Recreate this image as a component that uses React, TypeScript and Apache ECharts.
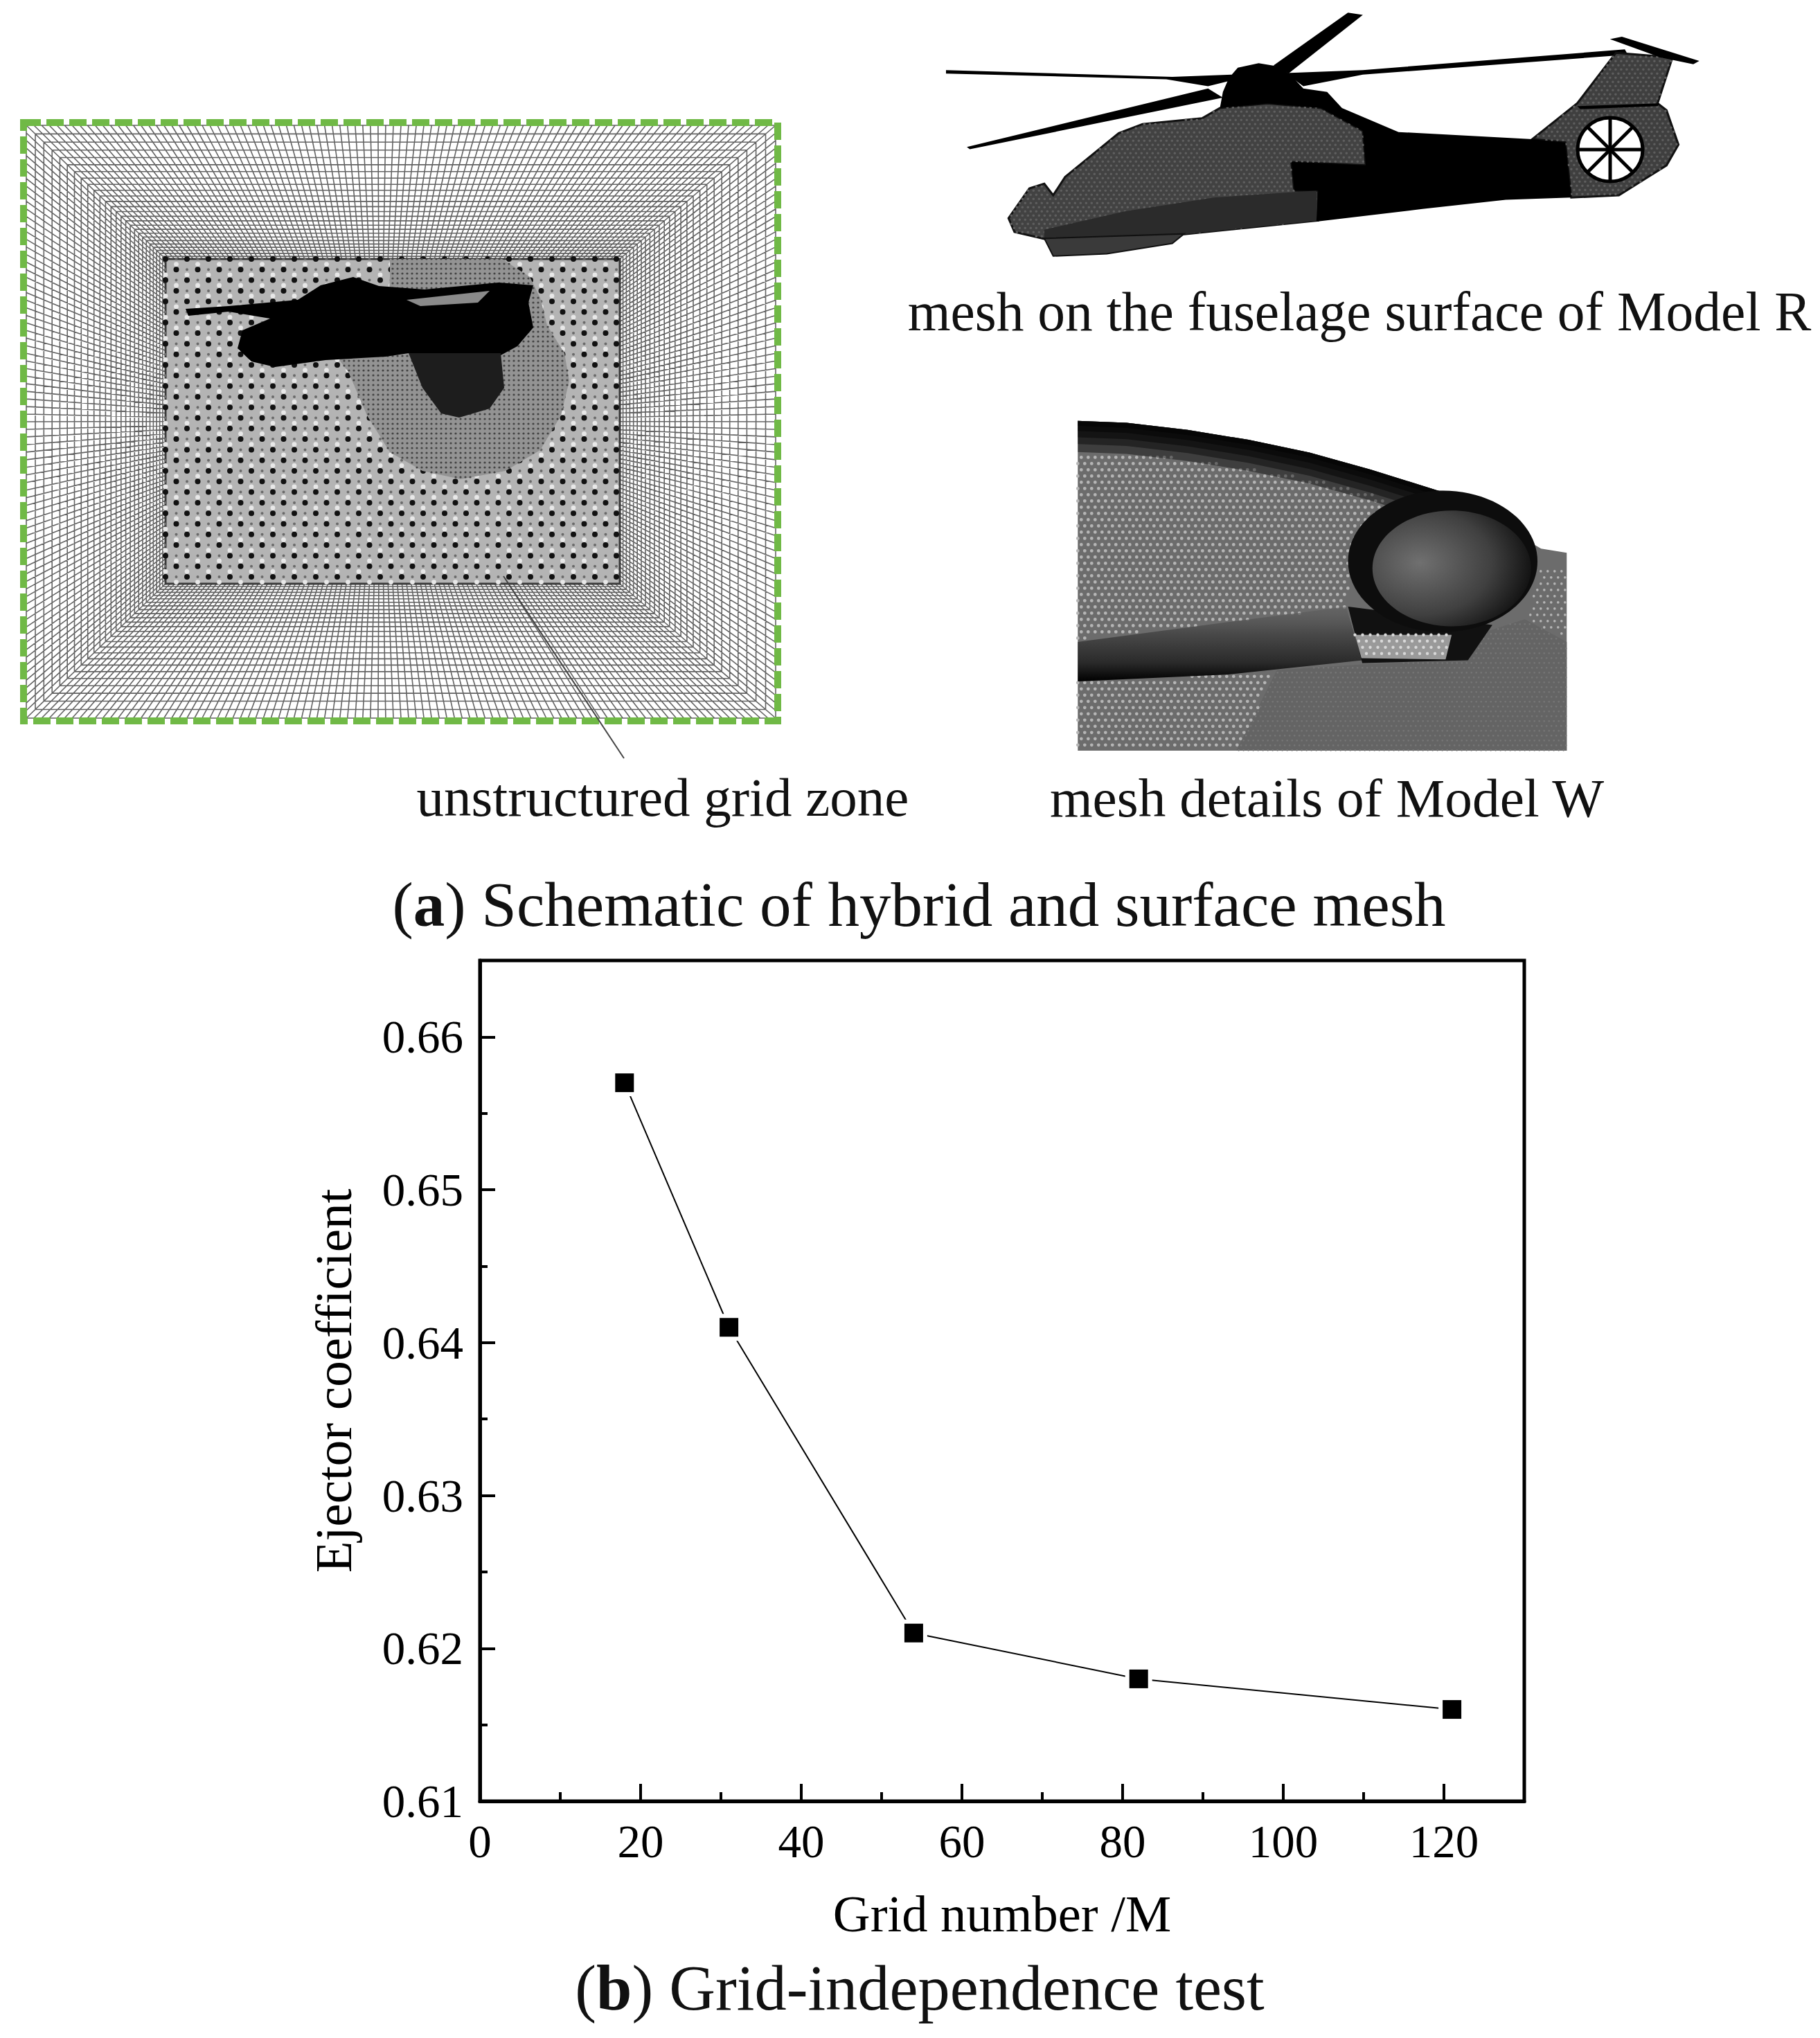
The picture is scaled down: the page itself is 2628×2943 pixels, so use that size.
import React, { useEffect, useRef } from "react";
import * as echarts from "echarts";

// ---------- chart data ----------
const gridNumber = [18, 31, 54, 82, 121];
const ejectorCoefficient = [0.657, 0.641, 0.621, 0.618, 0.616];
const xMajorTicks = [0, 20, 40, 60, 80, 100, 120];
const xMinorTicks = [10, 30, 50, 70, 90, 110];
const yMajorTicks = [0.61, 0.62, 0.63, 0.64, 0.65, 0.66];
const yMinorTicks = [0.615, 0.625, 0.635, 0.645, 0.655];
const points = gridNumber.map((x, i) => [x, ejectorCoefficient[i]]);

const SERIF = '"Liberation Serif", serif';

// ---------- illustration helpers (panel a) ----------
type P = number[];
const circleD = (x: number, y: number, r: number) =>
  `M${x - r} ${y}a${r} ${r} 0 1 0 ${2 * r} 0a${r} ${r} 0 1 0 ${-2 * r} 0z`;
const inPoly = (pt: P, poly: P[]) => {
  let c = false;
  for (let i = 0, j = poly.length - 1; i < poly.length; j = i++) {
    const a = poly[i], b = poly[j];
    if (a[1] > pt[1] !== b[1] > pt[1] && pt[0] < ((b[0] - a[0]) * (pt[1] - a[1])) / (b[1] - a[1]) + a[0]) c = !c;
  }
  return c;
};
const latticeDots = (poly: P[], dx: number, dy: number, r: number, stagger = true) => {
  const xs = poly.map((p) => p[0]), ys = poly.map((p) => p[1]);
  const x0 = Math.min(...xs), x1 = Math.max(...xs), y0 = Math.min(...ys), y1 = Math.max(...ys);
  let d = "";
  let row = 0;
  for (let y = y0; y < y1; y += dy, row++) {
    for (let x = x0 + (stagger && row % 2 ? dx / 2 : 0); x < x1; x += dx) {
      if (inPoly([x, y], poly)) d += circleD(+x.toFixed(1), +y.toFixed(1), r);
    }
  }
  return d;
};

// mesh frame
const OUT = { l: 38, r: 1120, t: 181, b: 1037 };
const INN = { l: 239, r: 895, t: 374, b: 843 };
const NX = 98, NY = 78, RINGS = 26;

const meshD = (() => {
  const steps: number[] = [0];
  for (let k = 0; k < RINGS; k++) steps.push(steps[k] + 12 * Math.pow(0.955, k));
  const tt = steps.map((s) => s / steps[RINGS]);
  let d = "";
  const mix = (a: number, b: number, t: number) => +(a + (b - a) * t).toFixed(1);
  for (const t of tt) {
    const l = mix(OUT.l, INN.l, t), r = mix(OUT.r, INN.r, t), a = mix(OUT.t, INN.t, t), b = mix(OUT.b, INN.b, t);
    d += `M${l} ${a}L${r} ${a}L${r} ${b}L${l} ${b}Z`;
  }
  for (let i = 0; i <= NX; i++) {
    const u = i / NX;
    const xo = mix(OUT.l, OUT.r, u), xi = mix(INN.l, INN.r, u);
    d += `M${xo} ${OUT.t}L${xi} ${INN.t}M${xo} ${OUT.b}L${xi} ${INN.b}`;
  }
  for (let j = 0; j <= NY; j++) {
    const v = j / NY;
    const yo = mix(OUT.t, OUT.b, v), yi = mix(INN.t, INN.b, v);
    d += `M${OUT.l} ${yo}L${INN.l} ${yi}M${OUT.r} ${yo}L${INN.r} ${yi}`;
  }
  return d;
})();

const innerRect: P[] = [[INN.l, INN.t], [INN.r, INN.t], [INN.r, INN.b], [INN.l, INN.b]];
const innerDarkD = latticeDots(innerRect, 31, 15.3, 4);
const innerWhiteD = (() => {
  let d = "";
  let row = 0;
  for (let y = INN.t + 7.6; y < INN.b; y += 15.3, row++) {
    for (let x = INN.l + (row % 2 ? 0 : 15.5); x < INN.r; x += 31) {
      d += circleD(+x.toFixed(1), +y.toFixed(1), 3.4);
    }
  }
  return d;
})();
const innerGreyD = (() => {
  let d = "";
  let row = 0;
  for (let y = INN.t; y < INN.b; y += 15.3, row++) {
    for (let x = INN.l + (row % 2 ? 0 : 15.5); x < INN.r; x += 31) {
      d += circleD(+x.toFixed(1), +y.toFixed(1), 2);
    }
  }
  return d;
})();

// zoom-frame coordinates -> page pixels
const z4 = (p: P[]) => p.map(([x, y]) => [1280 + x / 1.163, y / 3.015]);
const z5 = (p: P[]) => p.map(([x, y]) => [1480 + x / 1.704, 580 + y / 2.45]);

// mesh blob
const blobGrey: P[] = [[563, 374], [725, 374], [765, 400], [780, 430], [790, 470], [815, 510], [822, 550], [810, 600], [780, 650], [730, 680], [665, 692], [610, 680], [563, 653], [530, 600], [503, 537], [490, 520], [560, 460], [563, 400]];
const blobBlack: P[] = [[268, 446], [330, 442], [430, 433], [463, 412], [510, 400], [547, 413], [613, 418], [720, 408], [770, 412], [763, 437], [770, 473], [747, 500], [723, 513], [590, 510], [557, 515], [470, 520], [397, 530], [363, 522], [343, 503], [350, 477], [390, 460], [330, 450], [272, 456]];
const blobHole: P[] = [[587, 433], [707, 420], [690, 437], [607, 442]];
const blobLobe: P[] = [[590, 510], [723, 510], [728, 560], [707, 590], [663, 603], [637, 597], [610, 560]];
const blobGridD = latticeDots(blobGrey, 7, 7, 1.6, false);

// helicopter
const heliBody = z4([[205, 950], [240, 820], [265, 800], [280, 850], [300, 770], [390, 580], [430, 540], [530, 515], [560, 470], [640, 450], [730, 470], [800, 570], [805, 720], [680, 705], [685, 830], [725, 830], [725, 960], [500, 1020], [265, 1040], [215, 1010]]);
const heliBand = z4([[265, 1000], [400, 920], [550, 860], [722, 830], [725, 960], [500, 1020], [265, 1040]]);
const heliChin = z4([[265, 1038], [500, 1018], [480, 1060], [370, 1105], [280, 1115]]);
const heliBlack = z4([[575, 340], [590, 295], [625, 275], [660, 290], [680, 330], [700, 385], [740, 400], [765, 470], [860, 575], [1080, 605], [1140, 620], [1150, 860], [1040, 870], [900, 910], [722, 965], [725, 830], [685, 830], [680, 705], [805, 720], [800, 570], [730, 470], [640, 450], [560, 470], [565, 400]]);
const heliTail = z4([[1085, 605], [1160, 450], [1225, 230], [1320, 250], [1295, 450], [1310, 480], [1330, 630], [1310, 720], [1230, 850], [1150, 860], [1140, 620]]);
const heliTailBar = z4([[1165, 475], [1295, 462], [1298, 450], [1160, 462]]);
const heliPlane = z4([[1215, 170], [1235, 160], [1365, 265], [1355, 280], [1300, 250]]);
const bladeTop = z4([[650, 285], [775, 55], [800, 65], [675, 320]]);
const bladeLeft = z4([[100, 305], [480, 335], [580, 325], [580, 350], [540, 375], [470, 345], [100, 320]]);
const bladeLow = z4([[135, 640], [540, 385], [565, 425], [140, 650]]);
const bladeRight = z4([[670, 318], [800, 305], [1240, 215], [1245, 238], [800, 325], [700, 375]]);
const heliTexture = latticeDots(heliBody, 8, 6, 1.8);
const heliTailTexture = latticeDots(heliTail, 8, 6, 1.8);

// model W
const wCurve: P[] = [[130, 68], [250, 75], [400, 100], [550, 135], [700, 180], [850, 240], [950, 285], [1050, 330], [1130, 385], [1200, 440], [1240, 495], [1270, 520], [1333, 535]];
const wBase = z5([...wCurve, [1333, 1235], [130, 1235]]);
const wBands = [18, 36, 58, 82, 110].map((off) =>
  z5([...wCurve.slice(0, 9), ...wCurve.slice(0, 9).reverse().map(([x, y]) => [x, y + off])])
);
const wDotsTop = z5([[130, 175], [400, 200], [700, 270], [900, 340], [800, 600], [790, 730], [500, 780], [130, 840]]);
const wDotsLow = z5([[130, 990], [500, 965], [620, 950], [520, 1235], [130, 1235]]);
const wDotsRight = z5([[1265, 600], [1333, 600], [1333, 840], [1235, 770]]);
const wWing = z5([[130, 850], [500, 780], [790, 725], [830, 915], [500, 965], [130, 990]]);
const wPylon = z5([[795, 725], [1150, 790], [1090, 915], [830, 925]]);
const wWindow = z5([[812, 825], [1050, 825], [1035, 912], [828, 908]]);
const wLower = z5([[1100, 830], [1230, 770], [1333, 850], [1333, 1235], [520, 1235], [620, 950], [830, 930], [1090, 915]]);
const wHatch = latticeDots(wLower, 7, 7, 1.4);
const wDotD = latticeDots(wDotsTop, 10, 9, 2.4) + latticeDots(wDotsLow, 10, 9, 2.4) + latticeDots(wDotsRight, 10, 9, 1.8);
const wWindowDots = latticeDots(wWindow, 11, 9, 2.2);

echarts.graphic.registerShape("meshLines", echarts.graphic.extendPath(meshD, {}));
echarts.graphic.registerShape("innerDark", echarts.graphic.extendPath(innerDarkD, {}));
echarts.graphic.registerShape("innerWhite", echarts.graphic.extendPath(innerWhiteD, {}));
echarts.graphic.registerShape("innerGrey", echarts.graphic.extendPath(innerGreyD, {}));
echarts.graphic.registerShape("blobGrid", echarts.graphic.extendPath(blobGridD, {}));
echarts.graphic.registerShape("heliTex", echarts.graphic.extendPath(heliTexture, {}));
echarts.graphic.registerShape("heliTailTex", echarts.graphic.extendPath(heliTailTexture, {}));
echarts.graphic.registerShape("wHatch", echarts.graphic.extendPath(wHatch, {}));
echarts.graphic.registerShape("wDots", echarts.graphic.extendPath(wDotD, {}));
echarts.graphic.registerShape("wWindowDots", echarts.graphic.extendPath(wWindowDots, {}));

const poly = (points: P[], fill: any, extra: any = {}) => ({ type: "polygon", shape: { points }, style: { fill, ...extra } });
const shape = (type: string, style: any) => ({ type, x: 0, y: 0, style });
const BASE = 0.345; // baseline offset of a vertically centred text, in em
const label = (text: string, cx: number, baseline: number, size: number, extra: any = {}) => ({
  type: "text",
  x: cx,
  y: baseline - BASE * size,
  style: { text, fontFamily: SERIF, fontSize: size, fill: "#111", align: "center", verticalAlign: "middle", ...extra },
});
const fanSpokes = [0, 45, 90, 135].map((deg) => {
  const a = (deg * Math.PI) / 180, cx = 2325, cy = 216, r = 46;
  return { type: "line", shape: { x1: cx - r * Math.cos(a), y1: cy - r * Math.sin(a), x2: cx + r * Math.cos(a), y2: cy + r * Math.sin(a) }, style: { stroke: "#000", lineWidth: 5 } };
});

const graphicElements: any[] = [
  // left mesh
  shape("meshLines", { fill: "none", stroke: "#636363", lineWidth: 1.6 }),
  { type: "rect", shape: { x: INN.l, y: INN.t, width: INN.r - INN.l, height: INN.b - INN.t }, style: { fill: "#b4b4b4", stroke: "#3a3a3a", lineWidth: 3 } },
  shape("innerWhite", { fill: "#e8e8e8" }),
  shape("innerGrey", { fill: "#6a6a6a" }),
  shape("innerDark", { fill: "#111" }),
  poly(blobGrey, "#939393"),
  shape("blobGrid", { fill: "#444" }),
  poly(blobBlack, "#000"),
  poly(blobHole, "#8a8a8a"),
  poly(blobLobe, "#1d1d1d"),
  { type: "rect", shape: { x: 34, y: 177, width: 1089, height: 864 }, style: { fill: "none", stroke: "#70b946", lineWidth: 10, lineDash: [25, 8] } },
  { type: "line", shape: { x1: 727, y1: 832, x2: 901, y2: 1095 }, style: { stroke: "#444", lineWidth: 2 } },

  // helicopter
  poly(bladeTop, "#000"),
  poly(bladeLeft, "#000"),
  poly(bladeLow, "#000"),
  poly(bladeRight, "#000"),
  poly(heliTail, "#3f3f3f", { stroke: "#111", lineWidth: 3 }),
  shape("heliTailTex", { fill: "#5e5e5e" }),
  poly(heliPlane, "#000"),
  poly(heliTailBar, "#000"),
  poly(heliBody, "#424242", { stroke: "#111", lineWidth: 3 }),
  shape("heliTex", { fill: "#5f5f5f" }),
  poly(heliBand, "#2b2b2b"),
  poly(heliChin, "#3a3a3a", { stroke: "#111", lineWidth: 2 }),
  poly(heliBlack, "#000"),
  { type: "ellipse", shape: { cx: 2325, cy: 216, rx: 47, ry: 46 }, style: { fill: "#fff", stroke: "#000", lineWidth: 5 } },
  ...fanSpokes,

  // model W
  poly(wBase, "#6c6c6c"),
  poly(wLower, "#646464"),
  shape("wHatch", { fill: "#757575" }),
  shape("wDots", { fill: "#b5b5b5" }),
  ...wBands.map((b) => poly(b, "rgba(0,0,0,0.42)")),
  poly(wWing, { type: "linear", x: 0, y: 0, x2: 0, y2: 1, colorStops: [{ offset: 0, color: "rgba(94,94,94,0.5)" }, { offset: 0.35, color: "#4a4a4a" }, { offset: 0.75, color: "#2a2a2a" }, { offset: 1, color: "#000" }] }),
  poly(wPylon, "#111"),
  poly(wWindow, "#9a9a9a"),
  shape("wWindowDots", { fill: "#d8d8d8" }),
  { type: "ellipse", shape: { cx: 1480 + 1028 / 1.704, cy: 580 + 565 / 2.45, rx: 233 / 1.704, ry: 250 / 2.45 }, style: { fill: "#0d0d0d" } },
  { type: "ellipse", shape: { cx: 1480 + 1050 / 1.704, cy: 580 + 590 / 2.45, rx: 195 / 1.704, ry: 205 / 2.45 }, style: { fill: { type: "radial", x: 0.3, y: 0.45, r: 0.75, colorStops: [{ offset: 0, color: "#707070" }, { offset: 0.6, color: "#404040" }, { offset: 1, color: "#0c0c0c" }] } } },

  // texts
  label("mesh on the fuselage surface of Model R", 1963, 477, 79.5),
  label("unstructured grid zone", 957, 1179, 79),
  label("mesh details of Model W", 1916, 1179, 79.3),
  label("({b|a}) Schematic of hybrid and surface mesh", 1327, 1338, 91, { rich: { b: { fontWeight: "bold", fontFamily: SERIF, fontSize: 91 } } }),
  label("({b|b}) Grid-independence test", 1328, 2903, 92.4, { rich: { b: { fontWeight: "bold", fontFamily: SERIF, fontSize: 92.4 } } }),
];

const commonAxis = { type: "value" as const, splitLine: { show: false } };

export default function App() {
  const ref = useRef<HTMLDivElement>(null);
  useEffect(() => {
    document.body.style.margin = "0";
    document.body.style.background = "#fff";
    const chart = echarts.init(ref.current!, null, { renderer: "svg" });
    chart.setOption({
      animation: false,
      backgroundColor: "#fff",
      textStyle: { fontFamily: SERIF },
      grid: { left: 693, right: 427, top: 1387, bottom: 342, show: true, borderColor: "#000", borderWidth: 5, backgroundColor: "transparent" },
      xAxis: [
        {
          ...commonAxis,
          min: 0,
          max: 130,
          position: "bottom",
          name: "Grid number /M",
          nameLocation: "middle",
          nameGap: 125,
          nameTextStyle: { fontFamily: SERIF, fontSize: 74.5, color: "#000" },
          axisLine: { show: true, lineStyle: { color: "#000", width: 5 } },
          axisTick: { show: true, inside: true, length: 25, customValues: xMajorTicks, lineStyle: { color: "#000", width: 4 } },
          axisLabel: { show: true, customValues: xMajorTicks, margin: 24, fontFamily: SERIF, fontSize: 67, color: "#000" },
        },
        {
          ...commonAxis,
          min: 0,
          max: 130,
          position: "bottom",
          axisLine: { show: false },
          axisTick: { show: true, inside: true, length: 13, customValues: xMinorTicks, lineStyle: { color: "#000", width: 4 } },
          axisLabel: { show: false },
        },
      ],
      yAxis: [
        {
          ...commonAxis,
          min: 0.61,
          max: 0.665,
          position: "left",
          name: "Ejector coefficient",
          nameLocation: "middle",
          nameGap: 174,
          nameTextStyle: { fontFamily: SERIF, fontSize: 75, color: "#000" },
          axisLine: { show: true, lineStyle: { color: "#000", width: 5 } },
          axisTick: { show: true, inside: true, length: 22, customValues: yMajorTicks, lineStyle: { color: "#000", width: 4 } },
          axisLabel: { show: true, customValues: yMajorTicks, margin: 24, fontFamily: SERIF, fontSize: 67, color: "#000", formatter: (v: number) => v.toFixed(2) },
        },
        {
          ...commonAxis,
          min: 0.61,
          max: 0.665,
          position: "left",
          axisLine: { show: false },
          axisTick: { show: true, inside: true, length: 11, customValues: yMinorTicks, lineStyle: { color: "#000", width: 4 } },
          axisLabel: { show: false },
        },
      ],
      series: [
        { type: "line", data: points, showSymbol: false, symbol: "none", lineStyle: { color: "#000", width: 2 }, z: 2 },
        { type: "scatter", data: points, symbol: "rect", symbolSize: 39, itemStyle: { color: "#fff", opacity: 1 }, z: 3 },
        { type: "scatter", data: points, symbol: "rect", symbolSize: 27, itemStyle: { color: "#000", opacity: 1 }, z: 4 },
      ],
      graphic: { elements: graphicElements.map((e) => ({ silent: true, ...e })) },
    });
    return () => chart.dispose();
  }, []);
  return <div ref={ref} style={{ width: 2628, height: 2943 }} />;
}
